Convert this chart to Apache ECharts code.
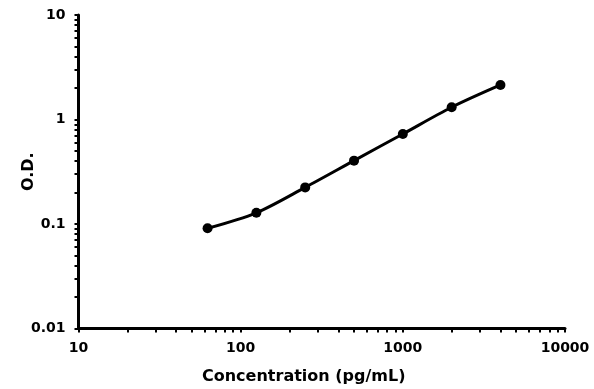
<!DOCTYPE html>
<html>
<head>
<meta charset="utf-8">
<script src="https://cdn.jsdelivr.net/npm/echarts@6/dist/echarts.min.js"></script>
<style>html,body{margin:0;padding:0;background:#fff;}#c{width:594px;height:389px;}</style>
</head>
<body>
<div id="c"></div>
<script>
const concentrations = [62.5, 125, 250, 500, 1000, 2000, 4000];
const odValues = [0.091, 0.128, 0.224, 0.404, 0.727, 1.31, 2.14];
const xTickLabels = [10, 100, 1000, 10000];
const yTickLabels = [0.01, 0.1, 1, 10];

function logTicks(lo, hi) {
  const out = [];
  for (let d = lo; d < hi * 0.999; d *= 10) {
    for (let k = 1; k <= 9; k++) out.push(parseFloat((d * k).toPrecision(6)));
  }
  out.push(hi);
  return out;
}

const chart = echarts.init(document.getElementById('c'), null, {renderer: 'canvas'});
const font = '"DejaVu Sans", sans-serif';
chart.setOption({
  animation: false,
  backgroundColor: '#fff',
  grid: {left: 78.5, right: 29, top: 15, bottom: 60.5, containLabel: false, outerBoundsMode: 'none'},
  xAxis: {
    type: 'log', logBase: 10, min: 10, max: 10000,
    name: 'Concentration (pg/mL)', nameLocation: 'middle', nameGap: 40, nameMoveOverlap: false,
    nameTextStyle: {color: '#000', fontFamily: font, fontWeight: 'bold', fontSize: 16, padding: [0, 36, 0, 0]},
    axisLine: {show: true, lineStyle: {color: '#000', width: 3}},
    axisTick: {show: true, inside: false, length: 4, lineStyle: {color: '#000', width: 2}, customValues: logTicks(10, 10000)},
    axisLabel: {color: '#000', fontFamily: font, fontWeight: 'bold', fontSize: 14, margin: 13,
      customValues: xTickLabels, formatter: v => String(Math.round(v))},
    splitLine: {show: false}
  },
  yAxis: {
    type: 'log', logBase: 10, min: 0.01, max: 10,
    name: 'O.D.', nameLocation: 'middle', nameGap: 42, nameRotate: 90, nameMoveOverlap: false,
    nameTextStyle: {color: '#000', fontFamily: font, fontWeight: 'bold', fontSize: 16},
    axisLine: {show: true, lineStyle: {color: '#000', width: 3}},
    axisTick: {show: true, inside: false, length: 4, lineStyle: {color: '#000', width: 2}, customValues: logTicks(0.01, 10)},
    axisLabel: {color: '#000', fontFamily: font, fontWeight: 'bold', fontSize: 14, margin: 13,
      customValues: yTickLabels, formatter: v => String(parseFloat(Number(v).toPrecision(3)))},
    splitLine: {show: false}
  },
  series: [{
    type: 'line',
    data: concentrations.map((c, i) => [c, odValues[i]]),
    smooth: 0.3,
    symbol: 'circle', symbolSize: 10,
    lineStyle: {color: '#000', width: 3},
    itemStyle: {color: '#000'}
  }]
});
</script>
</body>
</html>
